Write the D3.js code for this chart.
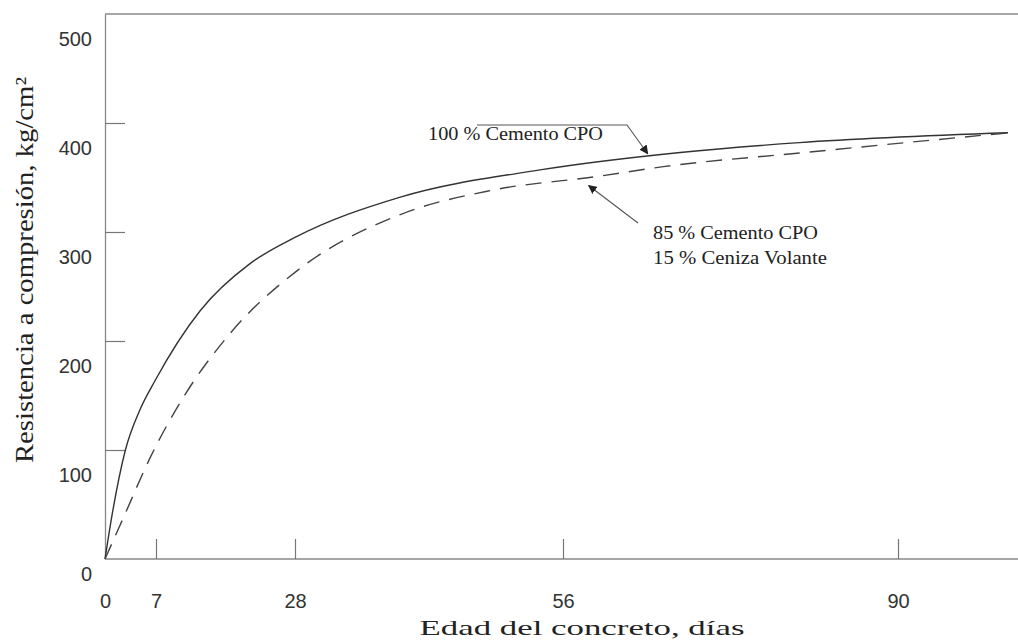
<!DOCTYPE html>
<html>
<head>
<meta charset="utf-8">
<script src="https://cdn.jsdelivr.net/npm/d3@7"></script>
<style>
  body { margin: 0; background: #fff; }
  .tick-lbl { font-family: "Liberation Sans", Arial, sans-serif; font-size: 20px; fill: #333; }
  .serif { font-family: "Liberation Serif", "Times New Roman", serif; fill: #222; }
</style>
</head>
<body>
<div class="graph"></div>
<script>
// edad (dias) y resistencia (kg/cm2)
var dias    = [0, 7, 28, 56, 90];
var yTicks  = [0, 100, 200, 300, 400, 500];

var cpoDias = [0, 0.96, 2.8, 4.8, 6.9, 13.7, 21.2, 28, 39, 53.6, 67.9, 80, 100];
var cpoRes  = [0, 40, 100, 137, 164, 228, 271, 295, 332, 357, 373, 382, 391];

var cenDias = [0, 2.6, 6.2, 10.9, 18.2, 28, 39, 48.4, 59.5, 66.2, 80.6, 100];
var cenRes  = [0, 39, 93, 146, 207, 263, 316, 338, 351, 360, 373, 391];

var width = 1018, height = 640;
var plotLeft = 105, plotTop = 14, plotBottom = 559;

// the printed x axis is not evenly spaced, so map each tick day
var x = d3.scaleLinear()
    .domain([0, 7, 28, 56, 90, 100])
    .range([plotLeft, 156, 295, 563, 898, 1008]);

var y = d3.scaleLinear()
    .domain([0, 500])
    .range([plotBottom, plotTop]);

var svg = d3.select(".graph").append("svg")
    .attr("width", width)
    .attr("height", height);

var defs = svg.append("defs");
defs.append("marker")
    .attr("id", "arrow")
    .attr("viewBox", "0 0 10 10")
    .attr("refX", 9).attr("refY", 5)
    .attr("markerWidth", 9).attr("markerHeight", 9)
    .attr("markerUnits", "userSpaceOnUse")
    .attr("orient", "auto")
  .append("path")
    .attr("d", "M0,0 L10,5 L0,10 z")
    .attr("fill", "#222");

// frame: top line, left axis, bottom axis
svg.append("line")
    .attr("x1", plotLeft).attr("x2", width)
    .attr("y1", plotTop).attr("y2", plotTop)
    .attr("stroke", "#888").attr("stroke-width", 1.3);

var xAxis = d3.axisBottom(x).tickValues(dias).tickSize(-20).tickSizeOuter(0);
var gx = svg.append("g")
    .attr("transform", "translate(0," + plotBottom + ")")
    .call(xAxis);
gx.select(".domain").attr("d", "M" + plotLeft + ",0H" + width).attr("stroke", "#888").attr("stroke-width", 1.3);
gx.selectAll(".tick line").attr("stroke", "#777").attr("stroke-width", 1.2)
    .attr("display", function(d){ return d === 0 ? "none" : null; });
gx.selectAll(".tick text")
    .attr("class", "tick-lbl")
    .attr("y", 35).attr("dy", "0.71em")
    .attr("font-size", null).attr("font-family", null).attr("fill", null);

var yAxis = d3.axisLeft(y).tickValues(yTicks).tickSize(-20).tickSizeOuter(0);
var gy = svg.append("g")
    .attr("transform", "translate(" + plotLeft + ",0)")
    .call(yAxis);
gy.select(".domain").attr("stroke", "#888").attr("stroke-width", 1.3);
gy.selectAll(".tick line").attr("stroke", "#777").attr("stroke-width", 1.2)
    .attr("display", function(d){ return d === 0 || d === 500 ? "none" : null; });
// the numbers sit a bit below their tick marks in the original
gy.selectAll(".tick text")
    .attr("class", "tick-lbl")
    .attr("x", -13)
    .attr("y", function(d){ return d === 0 ? 15 : 25; })
    .attr("font-size", null).attr("font-family", null).attr("fill", null);

var line = d3.line()
    .x(function(d){ return x(d[0]); })
    .y(function(d){ return y(d[1]); })
    .curve(d3.curveMonotoneX);

svg.append("path")
    .datum(d3.zip(cpoDias, cpoRes))
    .attr("d", line)
    .attr("fill", "none")
    .attr("stroke", "#333")
    .attr("stroke-width", 1.4);

svg.append("path")
    .datum(d3.zip(cenDias, cenRes))
    .attr("d", line)
    .attr("fill", "none")
    .attr("stroke", "#444")
    .attr("stroke-width", 1.4)
    .attr("stroke-dasharray", "16,10");

// annotations
svg.append("text")
    .attr("class", "serif")
    .attr("x", 428).attr("y", 140)
    .attr("font-size", 19)
    .attr("textLength", 175).attr("lengthAdjust", "spacingAndGlyphs")
    .text("100 % Cemento CPO");

svg.append("path")
    .attr("d", "M477,125 H627 L" + x(64.6) + "," + (y(370) - 2))
    .attr("fill", "none").attr("stroke", "#555").attr("stroke-width", 1.1)
    .attr("marker-end", "url(#arrow)");

svg.append("path")
    .attr("d", "M638,223 L" + x(58.6) + "," + (y(350) + 8))
    .attr("fill", "none").attr("stroke", "#555").attr("stroke-width", 1.1)
    .attr("marker-end", "url(#arrow)");

svg.append("text")
    .attr("class", "serif")
    .attr("x", 653).attr("y", 239)
    .attr("font-size", 19)
    .attr("textLength", 165).attr("lengthAdjust", "spacingAndGlyphs")
    .text("85 % Cemento CPO");

svg.append("text")
    .attr("class", "serif")
    .attr("x", 653).attr("y", 264)
    .attr("font-size", 19)
    .attr("textLength", 174).attr("lengthAdjust", "spacingAndGlyphs")
    .text("15 % Ceniza Volante");

// axis titles
svg.append("text")
    .attr("class", "serif")
    .attr("x", 582).attr("y", 635)
    .attr("text-anchor", "middle")
    .attr("font-size", 22)
    .attr("textLength", 325).attr("lengthAdjust", "spacingAndGlyphs")
    .text("Edad del concreto, días");

svg.append("text")
    .attr("class", "serif")
    .attr("transform", "translate(33,270) rotate(-90)")
    .attr("text-anchor", "middle")
    .attr("font-size", 25)
    .attr("textLength", 386).attr("lengthAdjust", "spacingAndGlyphs")
    .text("Resistencia a compresión, kg/cm²");
</script>
</body>
</html>
